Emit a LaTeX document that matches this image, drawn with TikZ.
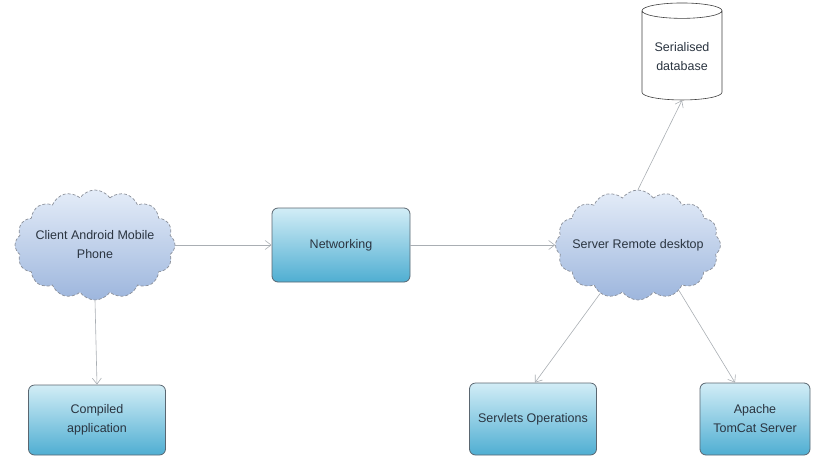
\documentclass[tikz,border=0pt]{standalone}
\usepackage{fontspec}
\setmainfont{Liberation Sans}
\usetikzlibrary{shapes.symbols,shapes.geometric,arrows.meta}
\definecolor{cloudline}{HTML}{8A8F99}
\definecolor{cloudtop}{HTML}{E4ECF8}
\definecolor{cloudbot}{HTML}{9DB6DD}
\definecolor{boxtop}{HTML}{D2EDF6}
\definecolor{boxbot}{HTML}{4FAED2}
\definecolor{boxline}{HTML}{5A6670}
\definecolor{arrowc}{HTML}{A9AEB3}
\definecolor{txt}{HTML}{2A3440}
\tikzset{
  x=1pt,y=-1pt,
  lbl/.style={text=txt, font=\fontsize{12.5}{19}\selectfont, align=center},
  cloudnode/.style={cloud, cloud puffs=16, cloud puff arc=110, aspect=1.5,
    draw=cloudline, densely dashed, line width=0.7pt,
    top color=cloudtop, bottom color=cloudbot,
    minimum width=160pt, minimum height=110pt, inner xsep=-22pt, inner ysep=-8pt, lbl},
  boxnode/.style={draw=boxline, line width=0.8pt, rounded corners=6pt,
    top color=boxtop, bottom color=boxbot, inner sep=2pt, lbl},
  dbnode/.style={cylinder, shape border rotate=90, aspect=0.25, draw=black!75,
    line width=0.6pt, fill=white, minimum width=80pt, minimum height=97pt, lbl},
  conn/.style={draw=arrowc, line width=0.6pt, -{Straight Barb[length=6pt,width=9pt]}}
}
\begin{document}
\begin{tikzpicture}
\useasboundingbox (0,0) rectangle (815,459);
\node[cloudnode] (client) at (95,245) {Client Android Mobile\\Phone};
\node[boxnode, minimum width=138pt, minimum height=74pt] (net) at (341,245) {Networking};
\node[cloudnode, minimum width=165pt] (server) at (638,245) {Server Remote desktop};
\node[dbnode] (db) at (682,57) {Serialised\\database};
\node[boxnode, minimum width=137pt, minimum height=70pt] (app) at (97,420) {Compiled\\application};
\node[boxnode, minimum width=127pt, minimum height=72pt] (serv) at (533,419) {Servlets Operations};
\node[boxnode, minimum width=110pt, minimum height=72pt] (tom) at (755,419) {Apache\\TomCat Server};
\draw[conn] (client.east) -- (net.west);
\draw[conn] (net.east) -- (server.west);
\draw[conn] (server.north) -- (db.south);
\draw[conn] (client.south) -- (app.north);
\draw[conn] (server.-128) -- ([xshift=2pt]serv.north);
\draw[conn] (server.-48) -- ([xshift=-20pt]tom.north);
\end{tikzpicture}
\end{document}
